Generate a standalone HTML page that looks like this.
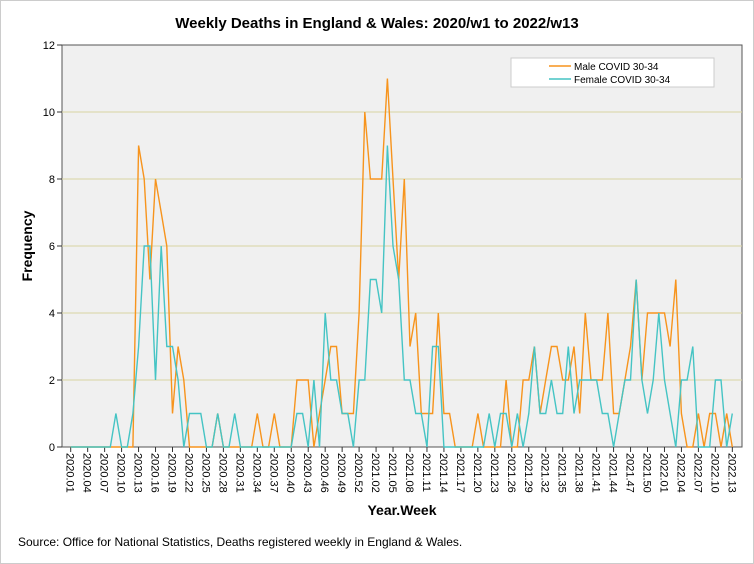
<!DOCTYPE html>
<html><head><meta charset="utf-8"><style>
body{margin:0;background:#fff;}
svg{display:block;font-family:"Liberation Sans",Arial,sans-serif;}
</style></head><body>
<svg id="chart" width="754" height="564" viewBox="0 0 754 564">
<rect x="0.5" y="0.5" width="753" height="563" fill="#fff" stroke="#ccc"/>
<text x="377" y="28" text-anchor="middle" font-size="15" font-weight="bold">Weekly Deaths in England &amp; Wales: 2020/w1 to 2022/w13</text>
<rect x="62" y="45" width="680" height="402" fill="#f0f0f0" stroke="#555"/>
<g id="grid"></g><g id="yticks"></g><g id="xticks"></g><g id="series"></g>
<text transform="translate(32,246) rotate(-90)" text-anchor="middle" font-size="14" font-weight="bold">Frequency</text>
<text x="402" y="515" text-anchor="middle" font-size="14" font-weight="bold">Year.Week</text>
<text x="18" y="546" font-size="12">Source: Office for National Statistics, Deaths registered weekly in England &amp; Wales.</text>
<g>
<rect x="511" y="58" width="203" height="29" fill="#fff" stroke="#ccc"/>
<line x1="549" y1="66" x2="571" y2="66" stroke="#f7941d" stroke-width="1.5"/>
<text x="574" y="70" font-size="10">Male COVID 30-34</text>
<line x1="549" y1="79" x2="571" y2="79" stroke="#45c4c4" stroke-width="1.5"/>
<text x="574" y="83" font-size="10">Female COVID 30-34</text>
</g>
</svg>
<script>
const male = [0,0,0,0,0,0,0,0,0,0,0,0,9,8,5,8,7,6,1,3,2,0,0,0,0,0,1,0,0,0,0,0,0,1,0,0,1,0,0,0,2,2,2,0,1,2,3,3,1,1,1,4,10,8,8,8,11,8,5,8,3,4,1,1,1,4,1,1,0,0,0,0,1,0,0,0,0,2,0,0,2,2,3,1,2,3,3,2,2,3,1,4,2,2,2,4,1,1,2,3,5,2,4,4,4,4,3,5,1,0,0,1,0,1,1,0,1,0];
const female = [0,0,0,0,0,0,0,0,1,0,0,1,3,6,6,2,6,3,3,2,0,1,1,1,0,0,1,0,0,1,0,0,0,0,0,0,0,0,0,0,1,1,0,2,0,4,2,2,1,1,0,2,2,5,5,4,9,6,5,2,2,1,1,0,3,3,0,0,0,0,0,0,0,0,1,0,1,1,0,1,0,1,3,1,1,2,1,1,3,1,2,2,2,2,1,1,0,1,2,2,5,2,1,2,4,2,1,0,2,2,3,0,0,0,2,2,0,1];
const yTicks = [0,2,4,6,8,10,12];
const yearWeeks = [2020,53,2021,52,2022,13];
const NS='http://www.w3.org/2000/svg';
const X0=70.7, STEP=5.655, Y0=447, YSCALE=33.5;
const xs=i=>X0+i*STEP, ys=v=>Y0-v*YSCALE;
function label(i){let y=yearWeeks[0],w=i+1;let k=0;while(w>yearWeeks[k+1]){w-=yearWeeks[k+1];k+=2;}y=yearWeeks[k];return y+'.'+String(w).padStart(2,'0');}
function mk(tag,attrs,parent){const e=document.createElementNS(NS,tag);for(const k in attrs)e.setAttribute(k,attrs[k]);document.getElementById(parent).appendChild(e);return e;}
yTicks.forEach(v=>{
  if(v>0&&v<12){const g=mk('line',{x1:62,x2:742,y1:ys(v),y2:ys(v),stroke:'#d9d3a2','stroke-width':1},'grid');
  
  }
  const t=mk('line',{x1:57,x2:62,y1:ys(v),y2:ys(v),stroke:'#333'},'yticks');
  
  
  const tx=mk('text',{x:55,y:ys(v)+4,'text-anchor':'end','font-size':11},'yticks');tx.textContent=v;
  
  
});
for(let i=0;i<male.length;i+=3){
  const x=xs(i);
  const t=mk('line',{x1:x,x2:x,y1:447,y2:452,stroke:'#333'},'xticks');
  
  
  const tx=mk('text',{transform:`translate(${x-4},453) rotate(90)`,'font-size':11},'xticks');tx.textContent=label(i);
  
  
}
[[male,'#f7941d','male-line'],[female,'#45c4c4','female-line']].forEach(([d,c,n])=>{
  const p=mk('polyline',{points:d.map((v,i)=>xs(i).toFixed(1)+','+ys(v).toFixed(1)).join(' '),fill:'none',stroke:c,'stroke-width':1.4},'series');
  
  
});
</script>
</body></html>
